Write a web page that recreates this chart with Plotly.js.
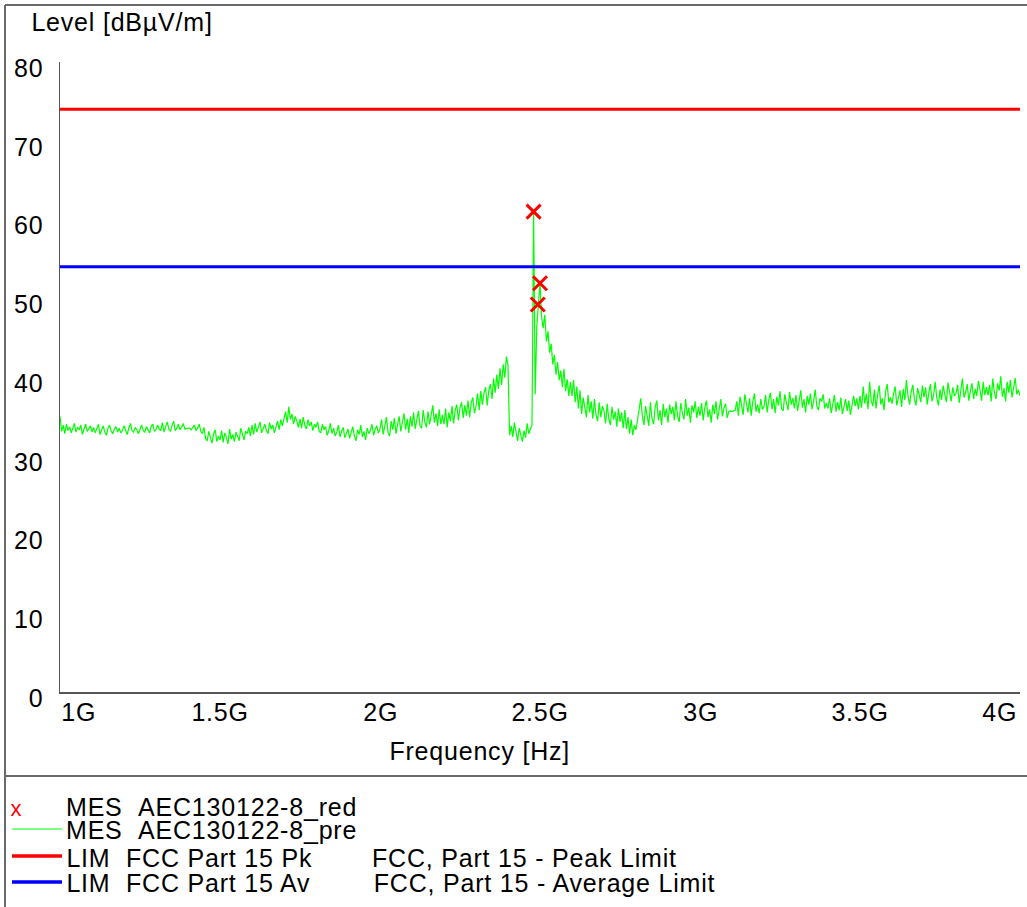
<!DOCTYPE html>
<html>
<head>
<meta charset="utf-8">
<script src="https://cdn.plot.ly/plotly-3.0.1.min.js"></script>
<style>
  html, body { margin: 0; padding: 0; background: #ffffff; }
  #chart { width: 1027px; height: 907px; }
  #chart svg text { letter-spacing: 0.8px; }
</style>
</head>
<body>
<div id="chart"></div>
<script>
// Radiated emission scan 1–4 GHz: prescan trace, final measurement points, FCC Part 15 limits.

// Prescan trace, evenly spaced in frequency (MHz)
const START_MHZ = 1000;
const STEP_MHZ = 5;
const preLevel = [
  35.0, 33.1, 33.9, 32.8, 34.0, 33.2, 33.7, 32.9, 33.5, 34.1, 33.0, 33.6, 33.3, 33.9, 32.7, 33.4, 34.0, 33.1, 33.5, 33.8, // 1000
  33.0, 33.6, 32.9, 33.4, 34.0, 32.7, 33.3, 33.8, 33.0, 32.6, 33.5, 33.9, 33.1, 32.8, 33.4, 33.7, 33.0, 33.5, 32.9, 33.2, // 1100
  33.8, 33.1, 32.7, 33.5, 34.1, 33.2, 33.0, 33.6, 33.3, 32.8, 33.4, 33.9, 33.2, 33.0, 33.7, 33.3, 32.9, 33.8, 34.0, 33.1, // 1200
  33.3, 33.9, 33.4, 33.2, 34.2, 33.0, 33.6, 34.3, 33.4, 33.1, 33.8, 34.4, 33.2, 33.5, 34.0, 33.3, 33.6, 34.1, 33.4, 33.5, // 1300
  33.5, 33.5, 33.3, 33.6, 33.9, 33.2, 33.5, 34.0, 33.1, 32.8, 33.6, 32.2, 31.9, 33.1, 32.4, 31.6, 32.8, 33.3, 31.8, 32.5, // 1400
  32.0, 33.2, 31.7, 32.9, 32.3, 31.5, 33.4, 32.1, 32.7, 31.8, 33.0, 32.4, 31.9, 33.5, 32.6, 32.0, 33.1, 32.8, 33.6, 32.5, // 1500
  33.9, 32.7, 34.1, 33.0, 33.6, 34.3, 32.9, 33.5, 34.0, 33.2, 32.8, 34.2, 33.4, 33.9, 32.9, 33.7, 34.4, 33.3, 34.6, 33.8, // 1600
  34.9, 35.6, 34.2, 36.2, 34.6, 35.3, 34.0, 35.0, 34.4, 33.6, 34.7, 33.5, 34.9, 33.9, 33.4, 34.6, 33.8, 34.3, 33.2, 34.0, // 1700
  33.6, 34.3, 33.1, 32.9, 34.0, 33.3, 33.7, 32.6, 33.2, 34.1, 32.8, 33.5, 32.5, 33.0, 33.9, 32.4, 33.1, 33.6, 32.3, 32.9, // 1800
  33.4, 32.2, 33.0, 33.7, 32.5, 31.9, 33.3, 32.7, 33.9, 32.4, 33.1, 32.0, 33.5, 32.8, 33.2, 34.0, 32.6, 33.4, 33.8, 32.9, // 1900
  33.4, 34.6, 32.7, 34.1, 34.9, 33.0, 32.5, 34.4, 33.3, 34.8, 32.8, 34.0, 35.0, 33.1, 34.2, 35.4, 33.3, 34.7, 32.9, 35.0, // 2000
  33.7, 35.5, 33.4, 34.9, 35.7, 33.8, 33.5, 35.8, 34.3, 33.6, 35.6, 34.0, 35.1, 36.4, 34.2, 35.4, 33.8, 35.9, 34.0, 35.2, // 2100
  34.0, 36.0, 33.6, 35.5, 34.4, 36.3, 34.1, 35.8, 36.5, 34.5, 36.1, 36.8, 34.8, 36.4, 35.1, 37.0, 34.9, 36.7, 37.4, 35.4, // 2200
  36.3, 37.9, 35.8, 38.2, 36.5, 38.0, 38.7, 36.4, 38.3, 39.1, 37.2, 39.8, 38.0, 40.3, 38.5, 41.1, 39.0, 41.6, 39.9, 42.6, // 2300
  41.5, 32.6, 33.8, 32.4, 34.2, 33.1, 31.9, 33.5, 32.6, 31.8, 33.2, 32.3, 34.1, 32.8, 33.4, 33.9, 61.0, 37.8, 46.5, 49.3, // 2400
  51.9, 47.6, 46.2, 47.9, 44.5, 45.8, 43.1, 44.2, 41.6, 42.8, 40.3, 41.9, 39.6, 40.8, 38.7, 41.0, 38.2, 39.7, 37.6, 39.4, // 2500
  37.6, 39.6, 36.8, 38.8, 36.0, 38.3, 35.3, 37.4, 35.9, 34.9, 37.7, 35.5, 36.9, 34.7, 37.2, 35.2, 34.4, 36.8, 34.9, 36.3, // 2600
  35.7, 34.1, 36.6, 34.7, 33.9, 36.2, 34.6, 35.6, 33.7, 36.0, 34.3, 35.5, 33.5, 35.8, 33.4, 34.9, 32.8, 34.6, 32.6, 33.9, // 2700
  33.3, 34.8, 35.9, 37.3, 35.0, 33.9, 36.3, 35.2, 33.8, 36.8, 34.7, 34.0, 36.2, 37.0, 34.5, 35.8, 33.9, 36.6, 34.9, 36.0, // 2800
  34.2, 36.5, 35.3, 36.2, 34.5, 36.9, 35.0, 34.3, 36.7, 35.4, 34.6, 37.2, 35.1, 36.1, 34.2, 36.4, 35.5, 36.9, 34.8, 36.2, // 2900
  35.1, 36.7, 34.5, 36.1, 37.0, 34.9, 35.9, 34.2, 36.5, 35.3, 36.9, 34.6, 36.2, 37.2, 35.0, 36.1, 36.6, 34.8, 35.6, 35.7, // 3000
  35.6, 35.7, 35.8, 36.9, 35.1, 37.5, 36.0, 35.2, 37.8, 36.3, 35.5, 37.3, 35.1, 36.9, 37.9, 35.6, 36.5, 35.4, 37.2, 35.9, // 3100
  36.2, 37.7, 35.5, 37.1, 38.0, 35.9, 37.2, 35.4, 37.5, 36.4, 38.2, 36.0, 35.7, 37.8, 36.8, 35.8, 38.1, 36.5, 37.3, 36.0, // 3200
  37.7, 35.7, 37.0, 38.3, 36.1, 37.2, 35.5, 37.6, 36.5, 37.9, 35.9, 36.9, 38.4, 36.3, 35.8, 37.3, 36.9, 37.8, 36.0, 36.7, // 3300
  36.0, 37.3, 35.4, 36.7, 37.7, 35.6, 36.8, 35.8, 37.4, 35.3, 36.5, 37.2, 35.7, 37.0, 35.2, 36.4, 37.6, 36.3, 37.3, 35.9, // 3400
  37.6, 36.1, 38.8, 36.6, 37.9, 35.9, 39.4, 37.0, 36.3, 38.4, 36.0, 37.7, 38.9, 36.5, 37.3, 35.8, 38.2, 39.1, 36.8, 37.4, // 3500
  36.6, 37.9, 38.8, 36.4, 37.6, 38.3, 36.2, 38.5, 37.1, 39.6, 37.6, 36.5, 38.1, 39.0, 37.2, 36.4, 38.6, 37.7, 36.8, 38.9, // 3600
  37.4, 38.7, 36.5, 38.0, 39.1, 36.9, 37.7, 39.4, 37.3, 36.4, 38.4, 37.1, 38.9, 37.8, 36.8, 39.3, 38.1, 36.9, 38.7, 37.6, // 3700
  37.9, 39.0, 36.7, 38.3, 39.8, 37.4, 38.0, 39.1, 37.0, 38.2, 39.2, 37.2, 38.5, 37.6, 39.5, 38.4, 37.0, 39.4, 37.7, 38.7, // 3800
  37.7, 39.0, 36.9, 39.8, 38.0, 37.2, 39.2, 38.3, 40.1, 37.5, 38.6, 36.9, 39.4, 38.0, 39.6, 37.4, 38.7, 39.9, 37.8, 38.4, // 3900
  37.6                                                                                                                    // 4000
];

// Final measurement points
const redFreqMHz = [2480, 2493, 2500];
const redLevel = [61.0, 49.2, 51.9];

// Limit lines
const limitFreqMHz = [1000, 4000];
const peakLimit = [74, 74];
const avgLimit = [54, 54];

// Axis ticks
const yTicks = [0, 10, 20, 30, 40, 50, 60, 70, 80];
const xTickMHz = [1000, 1500, 2000, 2500, 3000, 3500, 4000];
const xTickText = ['1G', '1.5G', '2G', '2.5G', '3G', '3.5G', '4G'];

// Legend block
const legendNames = ['MES\u00a0\u00a0AEC130122-8_red', 'MES\u00a0\u00a0AEC130122-8_pre', 'LIM\u00a0\u00a0FCC Part 15 Pk', 'LIM\u00a0\u00a0FCC Part 15 Av'];
const legendNotes = ['', '', 'FCC, Part 15 - Peak Limit', 'FCC, Part 15 - Average Limit'];
const legendColors = ['#ff0000', '#00ff00', '#ff0000', '#0000ff'];

// ---- page geometry (pixels) ----
const W = 1027, H = 907;
const M = { l: 60, r: 7, t: 62, b: 215 };
const plotW = W - M.l - M.r, plotH = H - M.t - M.b;
const px = x => (x - M.l) / plotW;          // page x -> paper x
const py = y => (H - M.b - y) / plotH;      // page y -> paper y

const FONT = 'Liberation Sans, Arial, Helvetica, sans-serif';
const FS = 25;
const frameColor = '#6a6a6a';

const traces = [
  {
    type: 'scatter', mode: 'lines', name: legendNames[1],
    x0: START_MHZ, dx: STEP_MHZ, y: preLevel,
    line: { color: '#00ff00', width: 1.2 }
  },
  {
    type: 'scatter', mode: 'lines', name: legendNames[2],
    x: limitFreqMHz, y: peakLimit,
    line: { color: '#ff0000', width: 3 }
  },
  {
    type: 'scatter', mode: 'lines', name: legendNames[3],
    x: limitFreqMHz, y: avgLimit,
    line: { color: '#0000ff', width: 3 }
  },
  {
    type: 'scatter', mode: 'markers', name: legendNames[0],
    x: redFreqMHz, y: redLevel,
    marker: { symbol: 'x-thin', size: 14, color: '#ff0000', line: { color: '#ff0000', width: 3 } },
    cliponaxis: false
  }
];

const annotations = [];

// x tick labels: first flush left, last flush right
xTickMHz.forEach((f, i) => {
  const last = xTickMHz.length - 1;
  annotations.push({
    xref: 'x', yref: 'paper', x: f, y: py(712),
    text: xTickText[i], showarrow: false,
    xanchor: i === 0 ? 'left' : (i === last ? 'right' : 'center'),
    xshift: i === 0 ? 0 : (i === last ? -2 : 0),
    yanchor: 'middle',
    font: { family: FONT, size: FS, color: '#000' }
  });
});

// axis captions
annotations.push({
  xref: 'paper', yref: 'paper', x: px(35), y: py(22),
  text: 'Level [dBµV/m]', showarrow: false, xanchor: 'left', yanchor: 'middle',
  font: { family: FONT, size: FS, color: '#000' }
});
annotations.push({
  xref: 'paper', yref: 'paper', x: px(480), y: py(751),
  text: 'Frequency [Hz]', showarrow: false, xanchor: 'center', yanchor: 'middle',
  font: { family: FONT, size: FS, color: '#000' }
});

// legend rows
const rowY = [807, 830, 858, 883];
legendNames.forEach((name, i) => {
  annotations.push({
    xref: 'paper', yref: 'paper', x: px(72), y: py(rowY[i]),
    text: name, showarrow: false, xanchor: 'left', yanchor: 'middle',
    font: { family: FONT, size: FS, color: '#000' }
  });
  if (legendNotes[i]) {
    annotations.push({
      xref: 'paper', yref: 'paper', x: px(i === 2 ? 380 : 383), y: py(rowY[i]),
      text: legendNotes[i], showarrow: false, xanchor: 'left', yanchor: 'middle',
      font: { family: FONT, size: FS, color: '#000' }
    });
  }
});
annotations.push({
  xref: 'paper', yref: 'paper', x: px(9), y: py(rowY[0] + 1),
  text: 'x', showarrow: false, xanchor: 'left', yanchor: 'middle',
  font: { family: FONT, size: 22, color: legendColors[0] }
});

const shapes = [
  // outer frame and divider above legend
  { type: 'line', xref: 'paper', yref: 'paper', x0: px(5), x1: px(5), y0: py(5), y1: py(907), line: { color: frameColor, width: 2 } },
  { type: 'line', xref: 'paper', yref: 'paper', x0: px(5), x1: px(1027), y0: py(5), y1: py(5), line: { color: frameColor, width: 2 } },
  { type: 'line', xref: 'paper', yref: 'paper', x0: px(5), x1: px(1027), y0: py(776), y1: py(776), line: { color: frameColor, width: 2 } },
  // legend line swatches
  { type: 'line', xref: 'paper', yref: 'paper', x0: px(12), x1: px(62), y0: py(829), y1: py(829), line: { color: legendColors[1], width: 1.2 } },
  { type: 'line', xref: 'paper', yref: 'paper', x0: px(12), x1: px(62), y0: py(856), y1: py(856), line: { color: legendColors[2], width: 3.5 } },
  { type: 'line', xref: 'paper', yref: 'paper', x0: px(12), x1: px(62), y0: py(882), y1: py(882), line: { color: legendColors[3], width: 3.5 } }
];

const layout = {
  width: W, height: H,
  margin: M,
  paper_bgcolor: '#ffffff', plot_bgcolor: '#ffffff',
  showlegend: false,
  font: { family: FONT, size: FS, color: '#000' },
  xaxis: {
    range: [1000, 4000], showgrid: false, zeroline: false,
    showline: true, linecolor: '#555555', linewidth: 1.5,
    ticks: '', showticklabels: false
  },
  yaxis: {
    range: [0, 80], tickvals: yTicks, showgrid: false, zeroline: false,
    showline: true, linecolor: '#555555', linewidth: 1.5,
    ticks: '', ticklabelstandoff: 10, ticklabelshift: 6,
    tickfont: { family: FONT, size: FS, color: '#000' }
  },
  annotations: annotations,
  shapes: shapes
};

Plotly.newPlot('chart', traces, layout, { staticPlot: true, displayModeBar: false });
</script>
</body>
</html>
